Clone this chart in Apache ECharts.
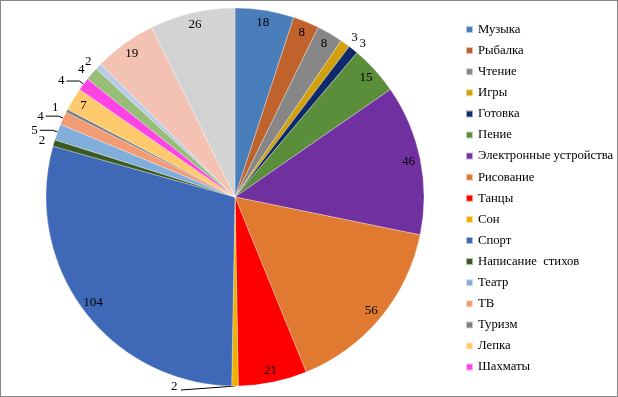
<!DOCTYPE html>
<html><head><meta charset="utf-8">
<script src="https://cdn.jsdelivr.net/npm/echarts@6/dist/echarts.min.js"></script>
<style>
html,body{margin:0;padding:0;background:#fff;}
#wrap{width:618px;height:397px;box-sizing:border-box;border:1px solid #878787;position:relative;overflow:hidden;}
#c{position:absolute;left:-1px;top:-1px;width:618px;height:397px;}
</style></head>
<body><div id="wrap"><div id="c"></div></div>
<script>
const categories = ['Музыка','Рыбалка','Чтение','Игры','Готовка','Пение','Электронные устройства','Рисование','Танцы','Сон','Спорт','Написание  стихов','Театр','ТВ','Туризм','Лепка','Шахматы','Прочее 1','Прочее 2','Прочее 3','Прочее 4'];
const values = [18,8,8,3,3,15,46,56,21,2,104,2,5,4,1,7,4,4,2,19,26];
const legendNames = categories.slice(0,17);
const palette = ['#4a7ebb','#c0622c','#878787','#d1a00b','#0e2a6b','#5b8e3b','#7030a0','#e07a30','#ff0000','#f0b000','#3f69b6','#3a5a22','#82aedc','#f29b74','#7f7f7f','#ffc96e','#ff44e6','#97bd77','#b8cce6','#f4c2b2','#d3d3d3'];
// label placement style: 'in' inside, 'out' outside w/o leader, 'lead' outside with leader
const labelMode = ['in','in','in','out','out','in','in','in','in','lead','in','out','lead','lead','out','in','lead','out','out','in','in'];

const font = 'Liberation Serif, Times New Roman, serif';
const chart = echarts.init(document.getElementById('c'), null, {renderer:'canvas'});
const mainData = categories.map((n,i)=>({name:n,value:values[i],itemStyle:{color:palette[i]}}));
const labelData = categories.map((n,i)=>{
  const m = labelMode[i];
  const d = {name:n,value:values[i]};
  if (m==='in') {
    d.label = {position:'inside'};
  } else if (m==='out') {
    d.label = {position:'outside'};
    d.labelLine = {show:false,length:7,length2:0};
  } else {
    d.label = {position:'outside'};
    d.labelLine = {show:true,length:5,length2:13,lineStyle:{color:'#000',width:1}};
  }
  if (i===9) d.labelLine = {show:true,length:2,length2:52,lineStyle:{color:'#000',width:1}};
  return d;
});
chart.setOption({
  animation:false,
  legend:{
    orient:'vertical', left:465, top:23, padding:0, itemWidth:7, itemHeight:7, itemGap:8.1,
    icon:'rect', data:legendNames,
    textStyle:{fontFamily:font,fontSize:12.7,color:'#000',lineHeight:13}
  },
  series:[
    {type:'pie', center:[235,197], radius:[0,189], startAngle:90, clockwise:true,
     label:{show:false}, labelLine:{show:false},
     itemStyle:{borderColor:'rgba(255,255,255,0.6)',borderWidth:0.5},
     data:mainData},
    {type:'pie', center:[235,197], radius:[159,189], startAngle:90, clockwise:true,
     silent:true, avoidLabelOverlap:false, legendHoverLink:false,
     itemStyle:{color:'rgba(0,0,0,0)'},
     label:{show:true,formatter:'{c}',fontFamily:font,fontSize:13,color:'#000',distanceToLabelLine:2},
     labelLayout:function(p){
       if (p.dataIndex===9 && p.labelLinePoints) {
         const a = p.labelLinePoints[0];
         return {dx:-118, dy:-1, labelLinePoints:[[a[0],a[1]],[a[0]-26,a[1]+2],[a[0]-54,a[1]+4]]};
       }
       return {};
     },
     data:labelData}
  ]
});
</script></body></html>
